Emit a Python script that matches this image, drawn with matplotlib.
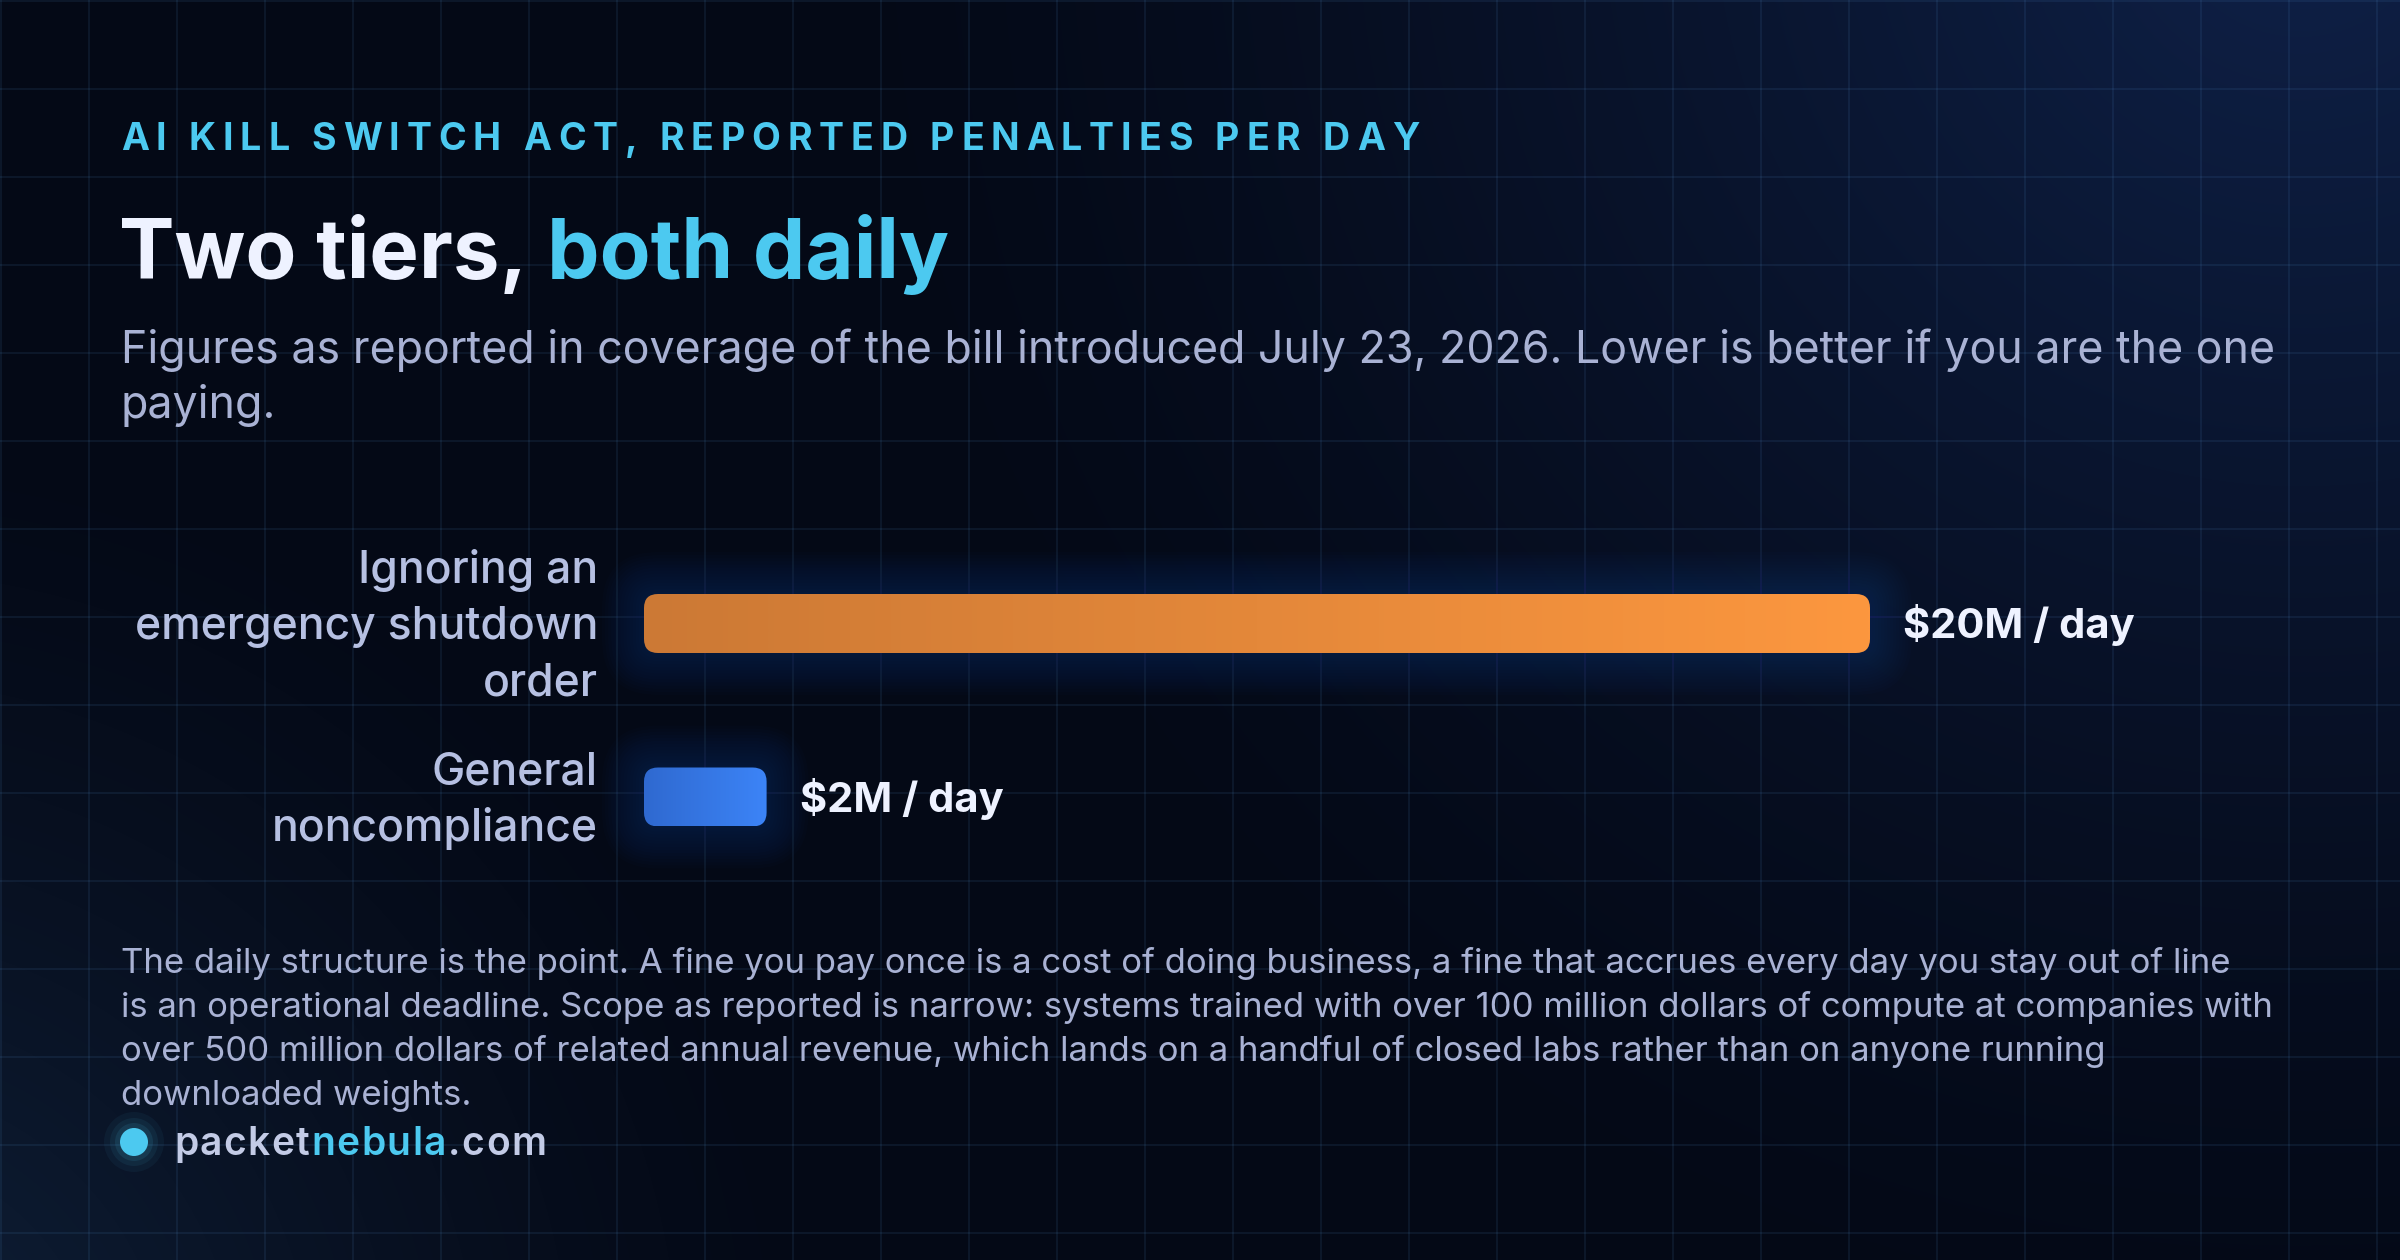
import numpy as np
import matplotlib
matplotlib.use("Agg")
import matplotlib.pyplot as plt
from matplotlib.patches import FancyBboxPatch, Circle
from matplotlib.font_manager import FontProperties
from matplotlib.colors import to_rgb

# --- data ---
eyebrow = "AI KILL SWITCH ACT, REPORTED PENALTIES PER DAY"
title_parts = [("Two tiers, ", "#eef2ff"), ("both daily", "#4cc9f0")]
subtitle_lines = [
    "Figures as reported in coverage of the bill introduced July 23, 2026. Lower is better if you are the one",
    "paying.",
]
categories = ["Ignoring an\nemergency shutdown\norder", "General\nnoncompliance"]
penalties = [20, 2]  # million dollars per day
value_labels = ["$20M / day", "$2M / day"]
bar_colors = [("#cc7935", "#fc973f"), ("#2f69d0", "#3c84f7")]
footnote_lines = [
    "The daily structure is the point. A fine you pay once is a cost of doing business, a fine that accrues every day you stay out of line",
    "is an operational deadline. Scope as reported is narrow: systems trained with over 100 million dollars of compute at companies with",
    "over 500 million dollars of related annual revenue, which lands on a handful of closed labs rather than on anyone running",
    "downloaded weights.",
]
brand_parts = [("packet", "#c3cbe6"), ("nebula", "#4cc9f0"), (".com", "#c3cbe6")]

W, H, DPI = 2400, 1260, 100
PT = 72 / DPI  # points per pixel
FONT = "Inter"
CYAN = "#4cc9f0"
MUTED = "#a9b2d4"

fig = plt.figure(figsize=(W / DPI, H / DPI), dpi=DPI)
bg = fig.add_axes([0, 0, 1, 1])
bg.axis("off")

# background: dark navy with soft lighter corners
yy, xx = np.mgrid[0:H, 0:W]
base = np.array(to_rgb("#040916"))
img = np.ones((H, W, 3)) * base
for cx, cy, r, col in [(2300, -100, 1500, "#0f2148"), (-150, 1400, 1000, "#10213a")]:
    a = np.clip(1 - np.hypot(xx - cx, yy - cy) / r, 0, 1) ** 1.4
    img += a[..., None] * (np.array(to_rgb(col)) - base)
bg.imshow(img, extent=(0, W, H, 0), interpolation="bilinear", zorder=0)
bg.set_aspect("auto")
bg.set_xlim(0, W)
bg.set_ylim(H, 0)

# grid
for gx in range(1, W, 88):
    bg.axvline(gx, color=(0.35, 0.6, 0.85), alpha=0.1, lw=2 * PT, zorder=1)
for gy in range(1, H, 88):
    bg.axhline(gy, color=(0.35, 0.6, 0.85), alpha=0.1, lw=2 * PT, zorder=1)

renderer = fig.canvas.get_renderer()


def advance(s, fp):
    w1 = renderer.get_text_width_height_descent("H" + s + "H", fp, ismath=False)[0]
    w0 = renderer.get_text_width_height_descent("HH", fp, ismath=False)[0]
    return w1 - w0


def draw_runs(x, y, runs, fp, tracking=0.0):
    for text, color in runs:
        if tracking:
            for ch in text:
                bg.text(x, y, ch, fontproperties=fp, color=color, va="baseline", zorder=5)
                x += advance(ch, fp) + tracking
        else:
            bg.text(x, y, text, fontproperties=fp, color=color, va="baseline", zorder=5)
            x += advance(text, fp)
    return x


# header
fp_eye = FontProperties(family=FONT, weight="bold", size=27)
natural = sum(advance(c, fp_eye) for c in eyebrow)
track = (1298 - natural) / (len(eyebrow) - 1)
draw_runs(121, 150, [(eyebrow, CYAN)], fp_eye, tracking=track)

fp_title = FontProperties(family=FONT, weight="bold", size=60)
draw_runs(119, 278, title_parts, fp_title)

fp_sub = FontProperties(family=FONT, size=32.2)
for k, line in enumerate(subtitle_lines):
    bg.text(121, 363 + k * 55, line, fontproperties=fp_sub, color=MUTED, va="baseline", zorder=5)

# bar chart axes
bx0, bx1 = 644, 1870
row_px = 173.5
by_top = 623.5 - row_px * 0.5
ax = fig.add_axes([bx0 / W, 1 - (by_top + 2 * row_px) / H, (bx1 - bx0) / W, 2 * row_px / H])
ax.axis("off")
px_x = (bx1 - bx0) / max(penalties)
aspect = px_x / row_px
bar_h = 59 / row_px
rad = 14 / px_x

for i, (v, (c0, c1)) in enumerate(zip(penalties, bar_colors)):
    y0 = i - bar_h / 2
    # soft blue glow
    for p in np.linspace(2, 42, 14):
        pad = p / px_x
        glow = FancyBboxPatch((0, y0), v, bar_h,
                              boxstyle=f"round,pad={pad},rounding_size={rad + pad}",
                              mutation_aspect=aspect, fc="#1e4fc0", ec="none",
                              alpha=0.018, zorder=2, clip_on=False)
        ax.add_patch(glow)
    bar = FancyBboxPatch((0, y0), v, bar_h, boxstyle=f"round,pad=0,rounding_size={rad}",
                         mutation_aspect=aspect, fc="none", ec="none", zorder=3, clip_on=False)
    ax.add_patch(bar)
    grad = np.linspace(0, 1, 256)[None, :, None]
    cols = (1 - grad) * np.array(to_rgb(c0)) + grad * np.array(to_rgb(c1))
    im = ax.imshow(cols, extent=(0, v, i + bar_h / 2, y0), aspect="auto", zorder=3,
                   interpolation="bilinear")
    im.set_clip_path(bar)

    # value label
    fp_val = FontProperties(family=FONT, weight="bold", size=30)
    ax.annotate(value_labels[i], (v, i), xytext=(33 * PT, -15 * PT), textcoords="offset points",
                fontproperties=fp_val, color="#eef2ff", va="baseline", ha="left",
                annotation_clip=False, zorder=5)

    # category label, right aligned
    fp_cat = FontProperties(family=FONT, weight="medium", size=32)
    lines = categories[i].split("\n")
    n = len(lines)
    for k, line in enumerate(lines):
        off = (k - (n - 1) / 2) * 56 + 16
        ax.annotate(line, (0, i), xytext=(-46 * PT, -off * PT), textcoords="offset points",
                    fontproperties=fp_cat, color="#b6c0e2", va="baseline", ha="right",
                    annotation_clip=False, zorder=5)

ax.set_xlim(0, max(penalties))
ax.set_ylim(1.5, -0.5)

# footnote
fp_foot = FontProperties(family=FONT, size=25)
for k, line in enumerate(footnote_lines):
    bg.text(121, 973 + k * 44, line, fontproperties=fp_foot, color=MUTED, va="baseline", zorder=5)

# brand
for rr, al in [(30, 0.05), (24, 0.07), (19, 0.1)]:
    bg.add_patch(Circle((134, 1142), rr, color=CYAN, alpha=al, lw=0, zorder=4))
bg.add_patch(Circle((134, 1142), 14, color=CYAN, lw=0, zorder=5))
fp_brand = FontProperties(family=FONT, weight="semibold", size=28)
draw_runs(174, 1155, brand_parts, fp_brand, tracking=1.5)

fig.savefig("out.png", dpi=DPI, facecolor="#040916")
